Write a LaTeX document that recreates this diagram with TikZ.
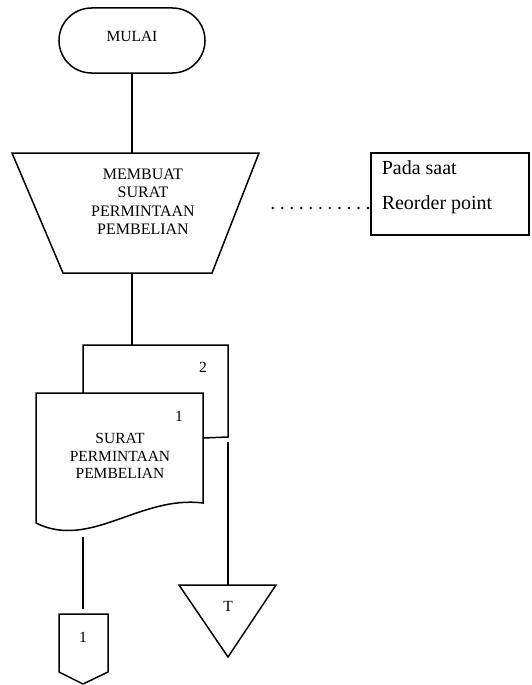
\documentclass[tikz,border=0pt]{standalone}
\usepackage{fontspec}
\setmainfont{Liberation Serif}
\usetikzlibrary{shapes.misc}
\begin{document}
\begin{tikzpicture}[x=1pt,y=-1pt,
  line width=1.5pt,
  lbl/.style={font=\fontsize{16}{18.5}\selectfont, inner sep=0pt, align=center},
  doclbl/.style={font=\fontsize{15.5}{17.8}\selectfont, inner sep=0pt, align=center},
  note/.style={font=\fontsize{20}{24}\selectfont, inner sep=0pt, anchor=base west},
  flow/.style={draw, line width=1.5pt},
  dotline/.style={draw, line width=2.7pt, line cap=round, dash pattern=on 0pt off 9.53pt}]
\useasboundingbox (0,0) rectangle (531,685);

% start terminal
\node[draw, rounded rectangle, minimum width=146pt, minimum height=65pt, inner sep=0pt] (start) at (132,40.5) {};
\node[doclbl] (starttxt) at (132,36) {MULAI};

% manual operation (trapezoid)
\draw (12,153) -- (259,153) -- (212,273) -- (63,273) -- cycle;
\coordinate (procTop) at (132,153);
\coordinate (procBot) at (132,273);
\node[lbl] (proc) at (143,201.5) {MEMBUAT\\SURAT\\PERMINTAAN\\PEMBELIAN};

% annotation box
\node[draw, minimum width=158pt, minimum height=82pt, inner sep=0pt] (notebox) at (450,194) {};
\node[note] (note1) at (381,174) {Pada saat};
\node[note] (note2) at (381,209) {Reorder point};
\coordinate (dotA) at (272.7,208);
\coordinate (dotB) at (368.5,208);
\path[dotline] (dotA) -- (dotB);

% document copy 2 (behind)
\draw (83,393) -- (83,345) -- (228,345) -- (228,437) -- (203,438);
\coordinate (docTop) at (132,345);
\coordinate (doc2Out) at (228,442);
\node[doclbl] (num2) at (203,367) {2};

% document copy 1 (front)
\draw (36,523) -- (36,393) -- (203,393) -- (203,503)
      .. controls (140,495) and (90,550) .. (36,523);
\node[doclbl] (num1) at (179,416) {1};
\node[doclbl] (doc) at (120,456) {SURAT\\PERMINTAAN\\PEMBELIAN};
\coordinate (doc1Out) at (83,537);

% off-page connector
\draw (59,614) -- (108,614) -- (108,672) -- (83,684) -- (59,672) -- cycle;
\coordinate (offTop) at (83,609);
\node[doclbl] (offtxt) at (83,637) {1};

% file (triangle)
\draw (179,585) -- (276,585) -- (228,657) -- cycle;
\coordinate (fileTop) at (228,585);
\node[doclbl] (filetxt) at (228,606) {T};

% connectors
\path[flow] (start.south) -- (procTop);
\path[flow] (procBot) -- (docTop);
\path[flow] (doc1Out) -- (offTop);
\path[flow] (doc2Out) -- (fileTop);
\end{tikzpicture}
\end{document}
